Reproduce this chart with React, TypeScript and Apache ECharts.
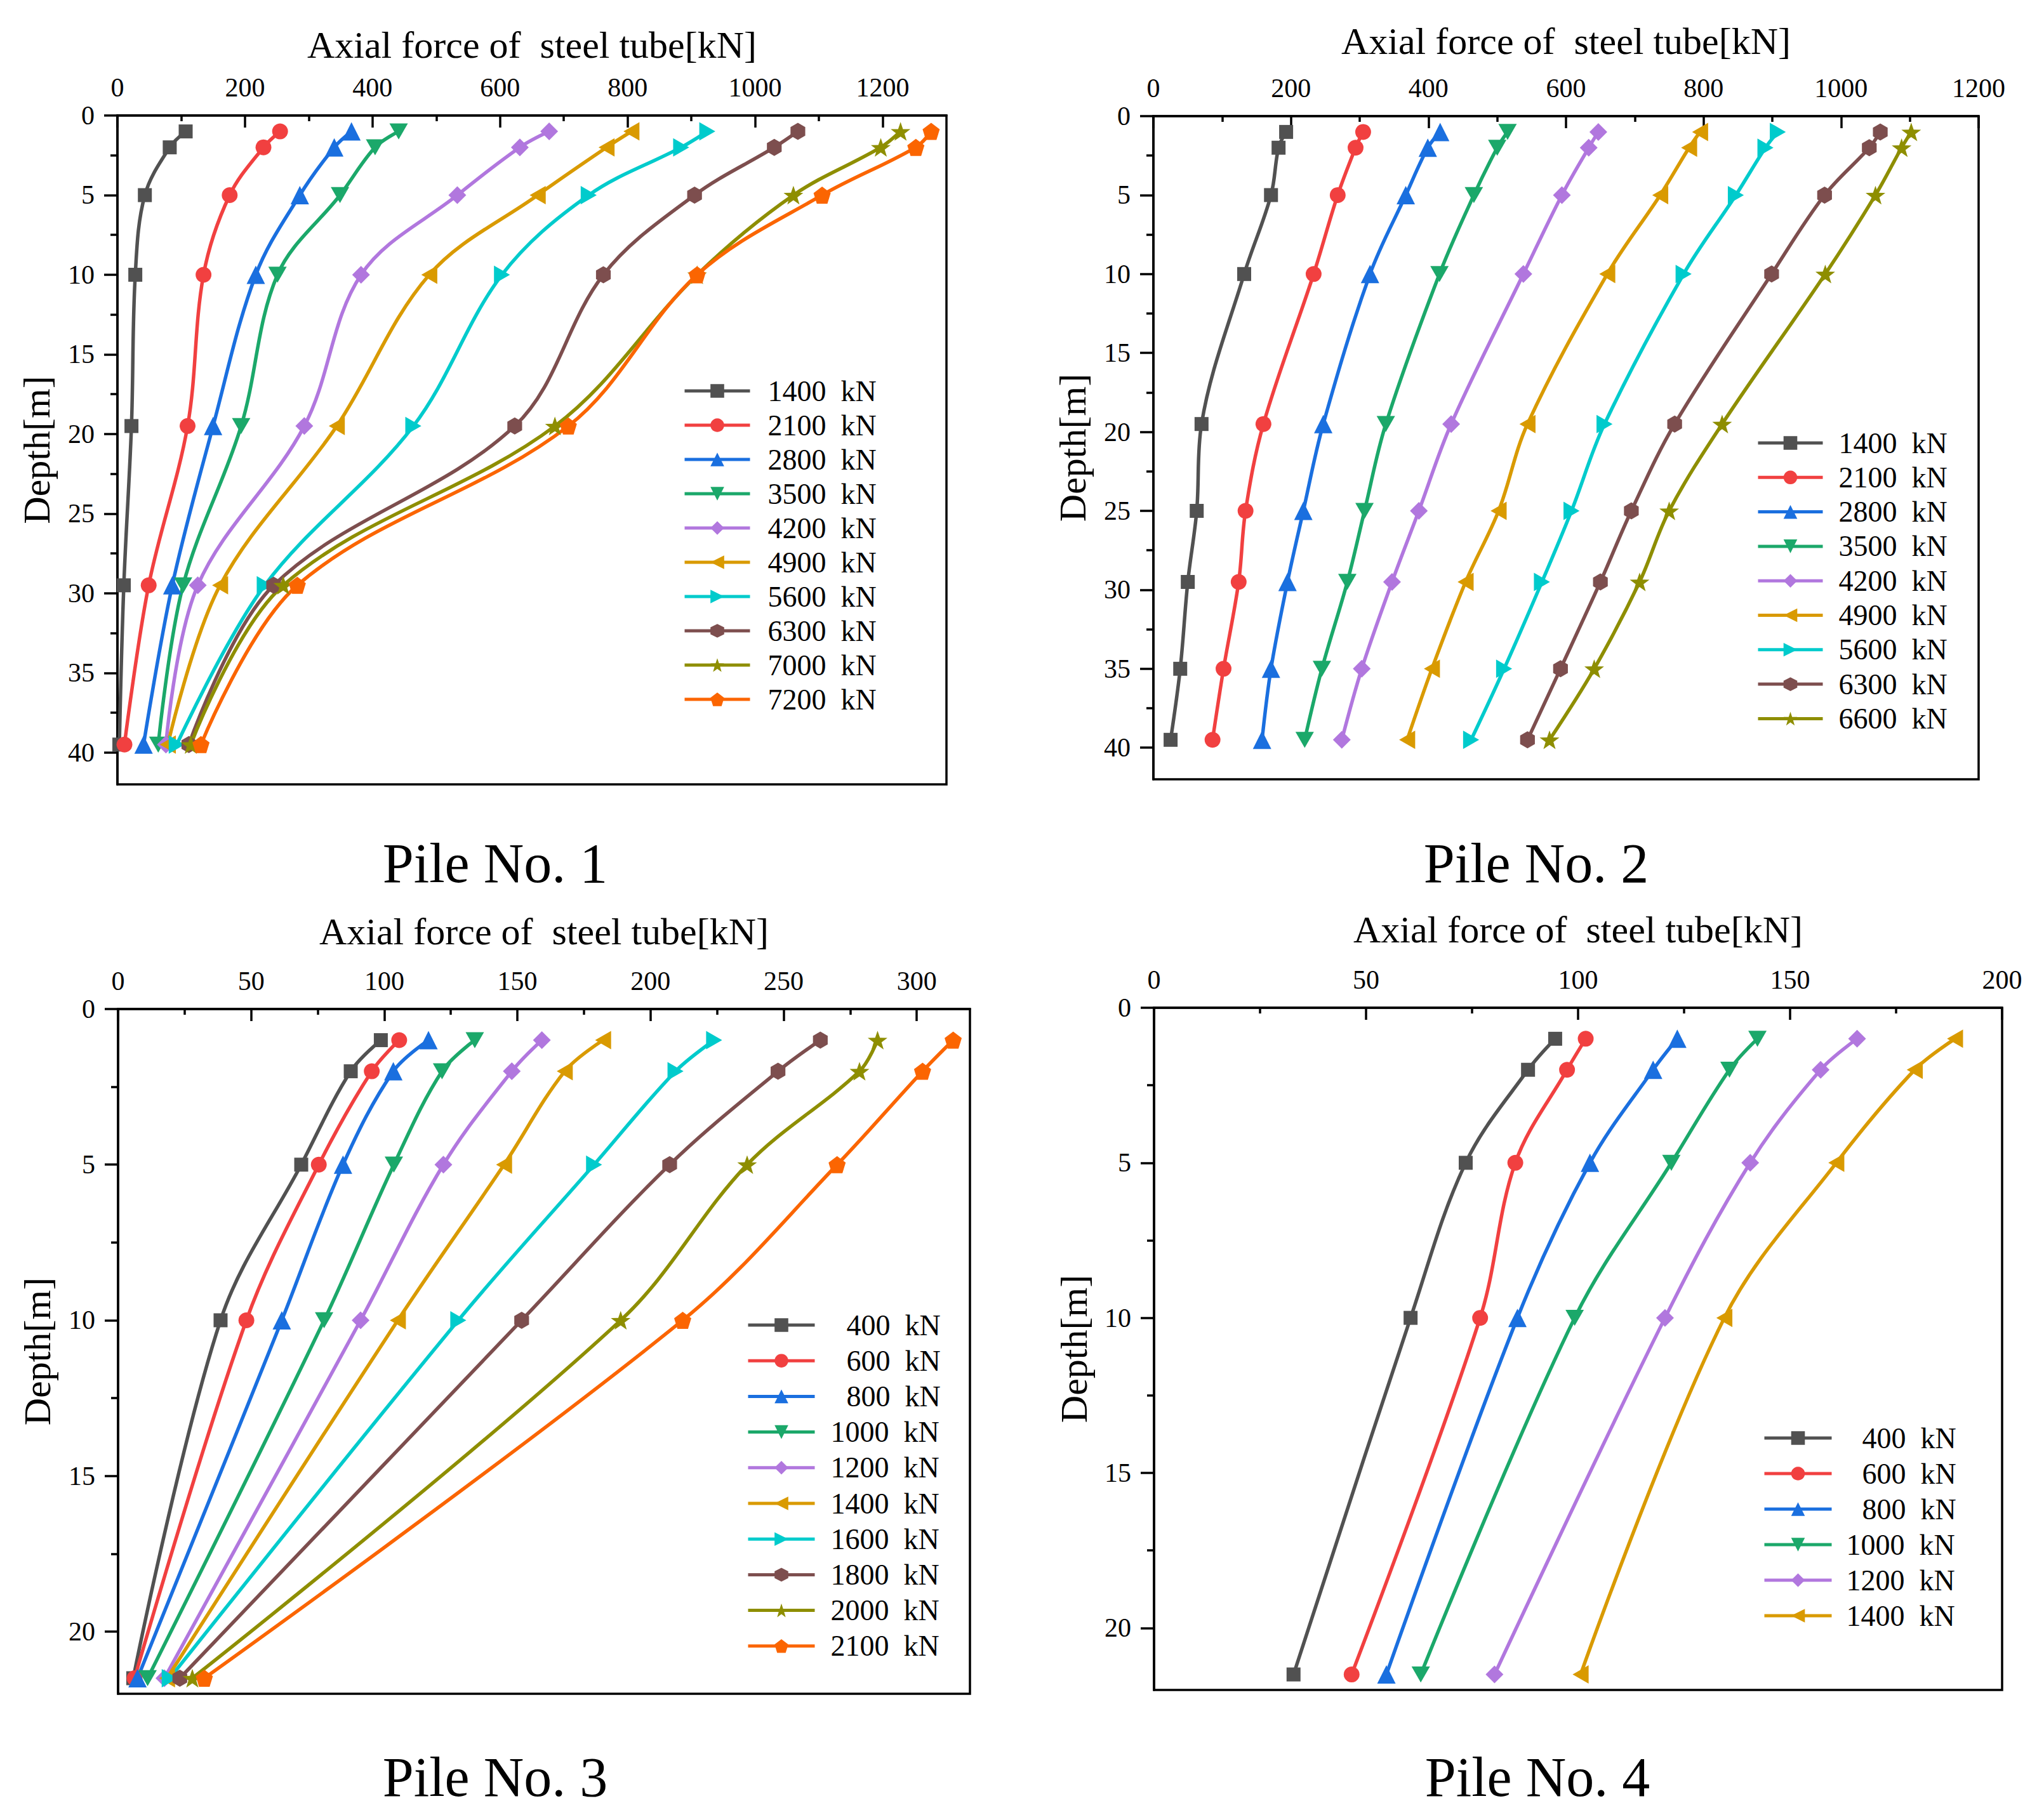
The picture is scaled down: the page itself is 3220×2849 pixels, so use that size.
import React, { useEffect, useRef } from 'react';
import * as echarts from 'echarts';

const FONT = '"Liberation Serif", "Times New Roman", serif';
const X_NAME = 'Axial force of  steel tube[kN]';
const Y_NAME = 'Depth[m]';
const UNIT = '  kN';

// ---------- Pile No. 1 ----------
const P1_DEPTH = [1, 2, 5, 10, 19.5, 29.5, 39.5];
const P1_LOADS = ['1400', '2100', '2800', '3500', '4200', '4900', '5600', '6300', '7000', '7200'];
const P1_1400 = [107, 82, 43, 28, 22, 10, 3];
const P1_2100 = [255, 229, 176, 135, 110, 49, 11];
const P1_2800 = [367, 340, 286, 217, 150, 86, 41];
const P1_3500 = [441, 404, 349, 251, 194, 103, 64];
const P1_4200 = [677, 631, 533, 382, 293, 126, 76];
const P1_4900 = [806, 767, 659, 489, 344, 161, 79];
const P1_5600 = [925, 884, 739, 603, 464, 231, 93];
const P1_6300 = [1067, 1030, 905, 762, 623, 245, 112];
const P1_7000 = [1228, 1197, 1060, 909, 686, 260, 115];
const P1_7200 = [1276, 1252, 1105, 909, 707, 282, 131];
const P1_VALUES = [P1_1400, P1_2100, P1_2800, P1_3500, P1_4200, P1_4900, P1_5600, P1_6300, P1_7000, P1_7200];
const P1_X_TICKS = [0, 200, 400, 600, 800, 1000, 1200];
const P1_X_MINOR = [100, 300, 500, 700, 900, 1100];
const P1_Y_TICKS = [0, 5, 10, 15, 20, 25, 30, 35, 40];
const P1_Y_MINOR = [2.5, 7.5, 12.5, 17.5, 22.5, 27.5, 32.5, 37.5];

// ---------- Pile No. 2 ----------
const P2_DEPTH = [1, 2, 5, 10, 19.5, 25, 29.5, 35, 39.5];
const P2_LOADS = ['1400', '2100', '2800', '3500', '4200', '4900', '5600', '6300', '6600'];
const P2_1400 = [193, 182, 171, 132, 70, 63, 50, 39, 25];
const P2_2100 = [305, 294, 268, 233, 160, 134, 124, 102, 86];
const P2_2800 = [417, 399, 367, 315, 247, 218, 195, 171, 158];
const P2_3500 = [515, 500, 466, 416, 338, 307, 282, 245, 220];
const P2_4200 = [647, 633, 594, 538, 433, 386, 347, 303, 274];
const P2_4900 = [795, 779, 737, 660, 544, 502, 454, 405, 369];
const P2_5600 = [908, 890, 847, 771, 656, 608, 565, 510, 462];
const P2_6300 = [1057, 1041, 976, 899, 758, 695, 650, 592, 544];
const P2_6600 = [1102, 1088, 1050, 977, 827, 750, 707, 641, 576];
const P2_VALUES = [P2_1400, P2_2100, P2_2800, P2_3500, P2_4200, P2_4900, P2_5600, P2_6300, P2_6600];
const P2_X_TICKS = [0, 200, 400, 600, 800, 1000, 1200];
const P2_X_MINOR = [100, 300, 500, 700, 900, 1100];
const P2_Y_TICKS = [0, 5, 10, 15, 20, 25, 30, 35, 40];
const P2_Y_MINOR = [2.5, 7.5, 12.5, 17.5, 22.5, 27.5, 32.5, 37.5];

// ---------- Pile No. 3 ----------
const P3_DEPTH = [1, 2, 5, 10, 21.5];
const P3_LOADS = ['400', '600', '800', '1000', '1200', '1400', '1600', '1800', '2000', '2100'];
const P3_400 = [98.7, 87.4, 68.8, 38.5, 5.7];
const P3_600 = [105.6, 95.3, 75.4, 48.2, 6.2];
const P3_800 = [116.6, 103.4, 84.5, 61.5, 7.3];
const P3_1000 = [134, 121.7, 103.6, 77.4, 11.1];
const P3_1200 = [159.2, 147.9, 122.2, 91.1, 17.4];
const P3_1400 = [182.2, 167.8, 145, 105.1, 18.4];
const P3_1600 = [223.9, 209.4, 178.8, 127.8, 19.4];
const P3_1800 = [263.8, 247.9, 207.2, 151.6, 23.2];
const P3_2000 = [285.3, 278.5, 236.3, 188.8, 27.9];
const P3_2100 = [313.7, 302.2, 270.1, 212.1, 32.4];
const P3_VALUES = [P3_400, P3_600, P3_800, P3_1000, P3_1200, P3_1400, P3_1600, P3_1800, P3_2000, P3_2100];
const P3_X_TICKS = [0, 50, 100, 150, 200, 250, 300];
const P3_X_MINOR = [25, 75, 125, 175, 225, 275];
const P3_Y_TICKS = [0, 5, 10, 15, 20];
const P3_Y_MINOR = [2.5, 7.5, 12.5, 17.5];

// ---------- Pile No. 4 ----------
const P4_DEPTH = [1, 2, 5, 10, 21.5];
const P4_LOADS = ['400', '600', '800', '1000', '1200', '1400'];
const P4_400 = [94.6, 88.2, 73.5, 60.5, 32.9];
const P4_600 = [101.8, 97.4, 85.2, 76.9, 46.6];
const P4_800 = [123.4, 117.7, 102.8, 85.7, 54.8];
const P4_1000 = [142.3, 135.7, 122, 99.2, 62.9];
const P4_1200 = [165.8, 157.2, 140.6, 120.5, 80.3];
const P4_1400 = [188.9, 179.4, 160.9, 134.5, 100.6];
const P4_VALUES = [P4_400, P4_600, P4_800, P4_1000, P4_1200, P4_1400];
const P4_X_TICKS = [0, 50, 100, 150, 200];
const P4_X_MINOR = [25, 75, 125, 175];
const P4_Y_TICKS = [0, 5, 10, 15, 20];
const P4_Y_MINOR = [2.5, 7.5, 12.5, 17.5];

const CAPTIONS = ['Pile No. 1', 'Pile No. 2', 'Pile No. 3', 'Pile No. 4'];

// ---------- styles ----------
const COLORS = ['#515151', '#F14040', '#1A6FDF', '#1BA86A', '#B177DE', '#D99A00', '#00CBCC', '#7D4E4E', '#8E8E00', '#FB6501'];
const STAR = 'path://M50,0 L61.76,33.82 L97.55,34.55 L69.02,56.18 L79.39,90.45 L50,70 L20.61,90.45 L30.98,56.18 L2.45,34.55 L38.24,33.82 Z';
const SYMBOLS = [
  'rect',
  'circle',
  'triangle',
  'path://M0,0 L100,0 L50,87 Z',
  'diamond',
  'path://M0,50 L87,0 L87,100 Z',
  'path://M0,0 L87,50 L0,100 Z',
  'path://M50,0 L93,25 L93,75 L50,100 L7,75 L7,25 Z',
  STAR,
  'path://M50,0 L100,38 L81,100 L19,100 L0,38 Z',
];
const SIZES = [22, 25, 29, 29, 28, 29, 29, 27, 31, 27];
const LINE_W = 5.5;

const PILES = [
  {
    depth: P1_DEPTH, loads: P1_LOADS, values: P1_VALUES,
    xTicks: P1_X_TICKS, xMinor: P1_X_MINOR, yTicks: P1_Y_TICKS, yMinor: P1_Y_MINOR,
    xMax: 1300, yMax: 42,
    grid: { left: 185, top: 182, width: 1306, height: 1054 },
    xNameGap: 81, yNameGap: 97,
    legend: { left: 1076, top: 593, itemWidth: 103, step: 54, pad: 23, shortCount: 0 },
    caption: [780, 1360],
  },
  {
    depth: P2_DEPTH, loads: P2_LOADS, values: P2_VALUES,
    xTicks: P2_X_TICKS, xMinor: P2_X_MINOR, yTicks: P2_Y_TICKS, yMinor: P2_Y_MINOR,
    xMax: 1200, yMax: 42,
    grid: { left: 1817, top: 183, width: 1300, height: 1045 },
    xNameGap: 88, yNameGap: 97,
    legend: { left: 2767, top: 675, itemWidth: 102, step: 54.3, pad: 20, shortCount: 0 },
    caption: [2420, 1360],
  },
  {
    depth: P3_DEPTH, loads: P3_LOADS, values: P3_VALUES,
    xTicks: P3_X_TICKS, xMinor: P3_X_MINOR, yTicks: P3_Y_TICKS, yMinor: P3_Y_MINOR,
    xMax: 320, yMax: 22,
    grid: { left: 186, top: 1590, width: 1342, height: 1079 },
    xNameGap: 92, yNameGap: 97,
    legend: { left: 1176, top: 2065, itemWidth: 105, step: 56.2, pad: 20, shortCount: 3 },
    caption: [780, 2800],
  },
  {
    depth: P4_DEPTH, loads: P4_LOADS, values: P4_VALUES,
    xTicks: P4_X_TICKS, xMinor: P4_X_MINOR, yTicks: P4_Y_TICKS, yMinor: P4_Y_MINOR,
    xMax: 200, yMax: 22,
    grid: { left: 1818, top: 1588, width: 1336, height: 1075 },
    xNameGap: 93, yNameGap: 96,
    legend: { left: 2777, top: 2243, itemWidth: 106, step: 56, pad: 18, shortCount: 3 },
    caption: [2422, 2800],
  },
];

const LINE = { color: '#000', width: 3.5 };
const plain = (v: number) => String(v);

function buildOption() {
  const grid: any[] = [];
  const xAxis: any[] = [];
  const yAxis: any[] = [];
  const series: any[] = [];
  const legend: any[] = [];
  const graphic: any[] = [];

  PILES.forEach((p, k) => {
    grid.push({
      ...p.grid,
      show: true,
      borderColor: '#000',
      borderWidth: 3.5,
      backgroundColor: 'transparent',
      containLabel: false,
      outerBoundsMode: 'none',
    });
    xAxis.push({
      type: 'value', gridIndex: k, position: 'top', min: 0, max: p.xMax,
      name: X_NAME, nameLocation: 'middle', nameGap: p.xNameGap, nameMoveOverlap: false,
      nameTextStyle: { fontFamily: FONT, fontSize: 60, color: '#000' },
      axisLine: { show: true, onZero: false, lineStyle: LINE },
      axisTick: { show: true, inside: true, length: 19, customValues: p.xTicks, lineStyle: LINE },
      axisLabel: { show: true, customValues: p.xTicks, formatter: plain, margin: 23, fontFamily: FONT, fontSize: 42, color: '#000' },
      splitLine: { show: false },
    });
    xAxis.push({
      type: 'value', gridIndex: k, position: 'top', min: 0, max: p.xMax,
      axisLine: { show: false, onZero: false },
      axisTick: { show: true, inside: true, length: 9, customValues: p.xMinor, lineStyle: LINE },
      axisLabel: { show: false },
      splitLine: { show: false },
    });
    yAxis.push({
      type: 'value', gridIndex: k, position: 'left', inverse: true, min: 0, max: p.yMax,
      name: Y_NAME, nameLocation: 'middle', nameGap: p.yNameGap, nameRotate: 90, nameMoveOverlap: false,
      nameTextStyle: { fontFamily: FONT, fontSize: 60, color: '#000' },
      axisLine: { show: true, onZero: false, lineStyle: LINE },
      axisTick: { show: true, inside: false, length: 21, customValues: p.yTicks, lineStyle: LINE },
      axisLabel: { show: true, customValues: p.yTicks, formatter: plain, margin: 36, fontFamily: FONT, fontSize: 42, color: '#000' },
      splitLine: { show: false },
    });
    yAxis.push({
      type: 'value', gridIndex: k, position: 'left', inverse: true, min: 0, max: p.yMax,
      axisLine: { show: false, onZero: false },
      axisTick: { show: true, inside: false, length: 11, customValues: p.yMinor, lineStyle: LINE },
      axisLabel: { show: false },
      splitLine: { show: false },
    });

    const names = p.loads.map((l) => `P${k + 1}|${l}${UNIT}`);
    p.loads.forEach((l, i) => {
      series.push({
        type: 'line',
        name: names[i],
        xAxisIndex: k * 2,
        yAxisIndex: k * 2,
        data: p.values[i].map((v, j) => [v, p.depth[j]]),
        smooth: 0.35,
        symbol: SYMBOLS[i],
        symbolSize: SIZES[i],
        symbolKeepAspect: true,
        showSymbol: true,
        lineStyle: { color: COLORS[i], width: LINE_W },
        itemStyle: { color: COLORS[i] },
        emphasis: { disabled: true },
        silent: true,
        animation: false,
      });
    });

    const lg = p.legend;
    const textH = 46;
    const common = {
      orient: 'vertical',
      left: lg.left,
      itemWidth: lg.itemWidth,
      itemHeight: 27,
      itemGap: lg.step - textH,
      padding: 0,
      selectedMode: false,
      lineStyle: { width: 5 },
      formatter: (n: string) => n.split('|')[1],
    };
    if (lg.shortCount > 0) {
      legend.push({
        ...common,
        top: lg.top,
        data: names.slice(0, lg.shortCount),
        textStyle: { fontFamily: FONT, fontSize: 46, lineHeight: textH, color: '#000', padding: [0, 0, 0, lg.pad + 25] },
      });
      legend.push({
        ...common,
        top: lg.top + lg.step * lg.shortCount,
        data: names.slice(lg.shortCount),
        textStyle: { fontFamily: FONT, fontSize: 46, lineHeight: textH, color: '#000', padding: [0, 0, 0, lg.pad] },
      });
    } else {
      legend.push({
        ...common,
        top: lg.top,
        data: names,
        textStyle: { fontFamily: FONT, fontSize: 46, lineHeight: textH, color: '#000', padding: [0, 0, 0, lg.pad] },
      });
    }

    graphic.push({
      type: 'text',
      x: p.caption[0],
      y: p.caption[1],
      silent: true,
      style: {
        text: CAPTIONS[k],
        fontFamily: FONT,
        fontSize: 88,
        fill: '#000',
        align: 'center',
        verticalAlign: 'middle',
      },
    });
  });

  return {
    animation: false,
    backgroundColor: '#ffffff',
    textStyle: { fontFamily: FONT },
    grid,
    xAxis,
    yAxis,
    series,
    legend,
    graphic,
  };
}

export default function App() {
  const ref = useRef<HTMLDivElement>(null);
  useEffect(() => {
    document.body.style.margin = '0';
    if (!ref.current) return;
    const chart = echarts.init(ref.current, null, { renderer: 'svg', width: 3220, height: 2849 });
    chart.setOption(buildOption() as any);
    return () => {
      chart.dispose();
    };
  }, []);
  return (
    <div
      ref={ref}
      style={{ width: 3220, height: 2849, position: 'absolute', left: 0, top: 0, background: '#fff' }}
    />
  );
}
